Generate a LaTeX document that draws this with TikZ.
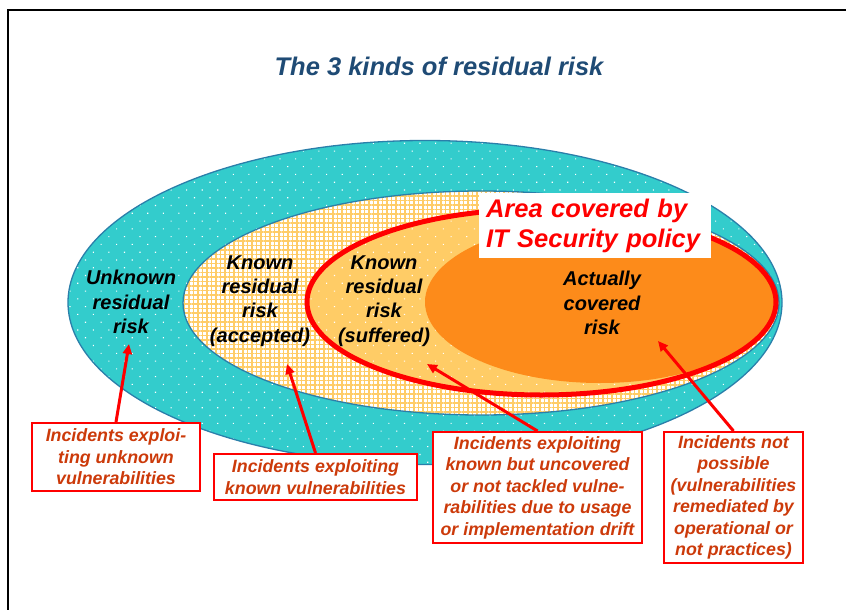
\documentclass[tikz,border=0pt]{standalone}
\usepackage{fontspec}
\setmainfont{Liberation Sans}
\usetikzlibrary{patterns.meta,arrows.meta}

\definecolor{zoneteal}{HTML}{33CCCC}
\definecolor{zoneedge}{HTML}{2A7FAA}
\definecolor{zonecream}{HTML}{FFCC66}
\definecolor{zoneorange}{HTML}{FD8B1A}
\definecolor{calloutred}{HTML}{FF0000}
\definecolor{callouttext}{HTML}{CC3A0A}
\definecolor{titleblue}{HTML}{1F4B75}

\begin{document}
\begin{tikzpicture}[x=1pt,y=-1pt,
  zonelabel/.style={font=\fontsize{20}{24.3}\selectfont\bfseries\itshape, align=center, text=black, inner sep=0pt},
  callout/.style={draw=calloutred, line width=2pt, fill=white, inner sep=0pt, align=center,
    text=callouttext, font=\fontsize{17.8}{21.5}\selectfont\bfseries\itshape},
  pointer/.style={draw=calloutred, line width=3pt, -{Triangle[length=10pt,width=9pt]}},
  whitedots/.style={pattern={Dots[radius=0.8pt,distance=11pt,angle=45]}, pattern color=white}
]
\useasboundingbox (0,0) rectangle (846,610);

% page frame (top and left rules)
\draw[line width=2pt] (8,610) -- (8,10) -- (846,10);

% title
\node[anchor=base, text=titleblue, font=\fontsize{25.5}{30}\selectfont\bfseries\itshape]
  (title) at (439,75) {The 3 kinds of residual risk};

% outer zone: unknown residual risk
\fill[zoneteal] (425,302.5) ellipse [x radius=357, y radius=162];
\fill[whitedots] (425,302.5) ellipse [x radius=357, y radius=162];
\draw[zoneedge, line width=1.3pt] (425,302.5) ellipse [x radius=357, y radius=162];

% known risk zone (grid)
\fill[white] (481,303) ellipse [x radius=298, y radius=112];
\fill[pattern={Hatch[angle=0,distance=4.5pt,line width=1.4pt]}, pattern color=zonecream]
  (481,303) ellipse [x radius=298, y radius=112];
\draw[zoneedge, line width=1.3pt] (481,303) ellipse [x radius=298, y radius=112];

% area covered by the policy
\fill[zonecream] (541.5,302) ellipse [x radius=234.5, y radius=93];
\fill[whitedots] (541.5,302) ellipse [x radius=234.5, y radius=93];

% actually covered risk
\fill[zoneorange] (600,302) ellipse [x radius=175, y radius=81];

% policy boundary
\draw[calloutred, line width=5pt] (541.5,302) ellipse [x radius=234.5, y radius=93];

% policy label
\node[fill=white, inner ysep=0pt, inner xsep=7pt, minimum height=65pt, text width=218pt,
  align=left, text=calloutred, font=\fontsize{25.5}{30}\selectfont\bfseries\itshape]
  (policy) at (595,225.5) {Area covered by\\IT Security policy};

% zone labels
\node[zonelabel] (unknown) at (131,302) {Unknown\\residual\\risk};
\node[zonelabel] (accepted) at (260,301) {Known\\residual\\risk\\(accepted)};
\node[zonelabel] (suffered) at (384,301) {Known\\residual\\risk\\(suffered)};
\node[zonelabel] (covered) at (602,303) {Actually\\covered\\risk};

% arrow targets
\coordinate (t1) at (129,344);
\coordinate (t2) at (287,364);
\coordinate (t3) at (427,364);
\coordinate (t4) at (658,341);

% callout boxes
\node[callout, minimum width=168pt, minimum height=68pt] (b1) at (116,457)
  {Incidents exploi-\\ting unknown\\vulnerabilities};
\node[callout, minimum width=203pt, minimum height=46pt] (b2) at (315.5,477)
  {Incidents exploiting\\known vulnerabilities};
\node[callout, minimum width=209pt, minimum height=111pt] (b3) at (537.5,487.5)
  {Incidents exploiting\\known but uncovered\\or not tackled vulne-\\rabilities due to usage\\or implementation drift};
\node[callout, minimum width=139pt, minimum height=131pt] (b4) at (733.5,497.5)
  {Incidents not\\possible\\(vulnerabilities\\remediated by\\operational or\\not practices)};

% pointers
\draw[pointer] (b1.north) -- (t1);
\draw[pointer] (b2.north) -- (t2);
\draw[pointer] (b3.north) -- (t3);
\draw[pointer] (b4.north) -- (t4);
\end{tikzpicture}
\end{document}
